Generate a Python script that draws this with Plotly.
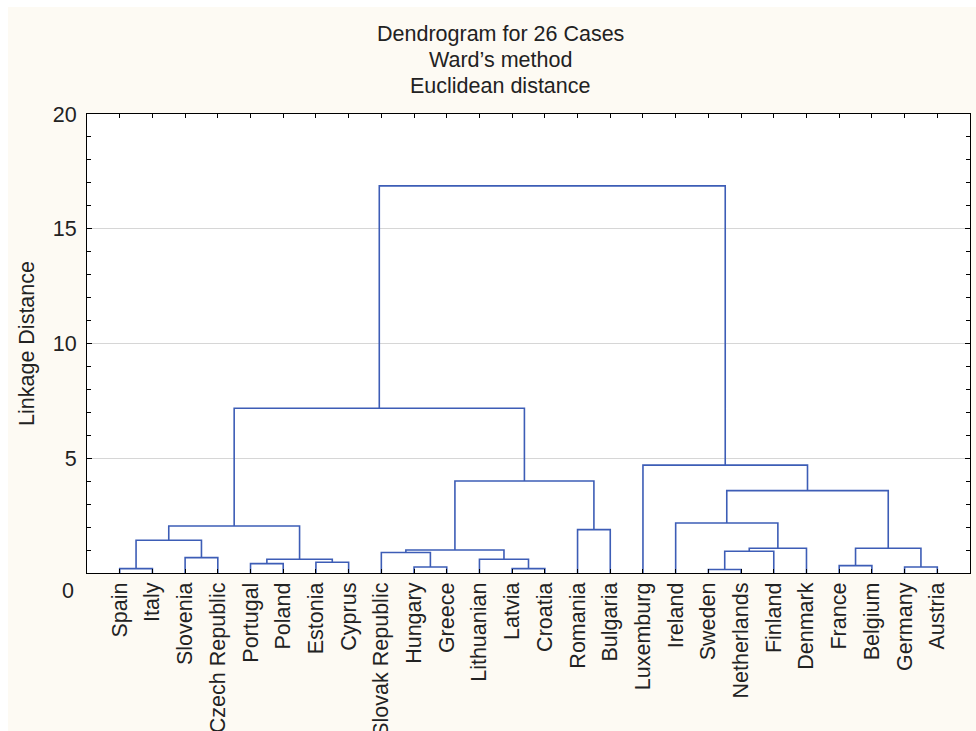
import plotly.graph_objects as go

# ---- data ----
leaves = ["Spain", "Italy", "Slovenia", "Czech Republic", "Portugal", "Poland",
          "Estonia", "Cyprus", "Slovak Republic", "Hungary", "Greece", "Lithuanian",
          "Latvia", "Croatia", "Romania", "Bulgaria", "Luxemburg", "Ireland",
          "Sweden", "Netherlands", "Finland", "Denmark", "France", "Belgium",
          "Germany", "Austria"]

# merges: (left member, right member, linkage distance); "cN" = result of merge N
merge_left = ["Spain", "Slovenia", "c0", "Portugal", "Estonia", "c3", "c2",
              "Hungary", "Slovak Republic", "Latvia", "Lithuanian", "c8", "Romania",
              "c11", "c6", "Sweden", "c15", "c16", "Ireland", "France", "Germany",
              "c19", "c18", "Luxemburg", "c14"]
merge_right = ["Italy", "Czech Republic", "c1", "Poland", "Cyprus", "c4", "c5",
               "Greece", "c7", "Croatia", "c9", "c10", "Bulgaria",
               "c12", "c13", "Netherlands", "Finland", "Denmark", "c17", "Belgium",
               "Austria", "c20", "c21", "c22", "c23"]
merge_height = [0.19, 0.67, 1.43, 0.41, 0.47, 0.60, 2.05,
                0.26, 0.89, 0.19, 0.60, 1.00, 1.89,
                4.01, 7.18, 0.15, 0.95, 1.08, 2.18, 0.32,
                0.26, 1.08, 3.59, 4.70, 16.87]

y_tickvals = [5, 10, 15, 20]
title_lines = ["Dendrogram for 26 Cases", "Ward\u2019s method", "Euclidean distance"]
y_title = "Linkage Distance"

# ---- build dendrogram segments ----
pos = {name: i + 1 for i, name in enumerate(leaves)}
hgt = {name: 0.0 for name in leaves}
xs, ys = [], []
for k, (a, b, h) in enumerate(zip(merge_left, merge_right, merge_height)):
    xa, xb = pos[a], pos[b]
    xs += [xa, xa, xb, xb, None]
    ys += [hgt[a], h, h, hgt[b], None]
    pos[f"c{k}"] = (xa + xb) / 2
    hgt[f"c{k}"] = h

FONT = "Liberation Sans, Arial, sans-serif"
TXT = "#222222"
CREAM = "#FDFAF3"
FS = 21.5

# pixel geometry of the plot frame
L, R, T, B = 87, 6, 114, 158
W, H = 976, 731
PW, PH = W - L - R, H - T - B


def px_to_paper_x(px):
    return (px - L) / PW


def px_to_paper_y(py):
    return (H - B - py) / PH


fig = go.Figure()
fig.add_trace(go.Scatter(x=xs, y=ys, mode="lines",
                         line=dict(color="#3D5DB6", width=1.6),
                         hoverinfo="skip", showlegend=False))

fig.update_layout(
    width=W, height=H,
    margin=dict(l=L, r=R, t=T, b=B),
    paper_bgcolor=CREAM, plot_bgcolor="white",
    font=dict(family=FONT, size=FS, color=TXT),
    showlegend=False,
)
fig.update_xaxes(range=[0, 27], tickmode="array", tickvals=list(range(1, len(leaves) + 1)),
                 ticktext=leaves, tickangle=-90, ticks="inside", ticklen=4,
                 tickcolor="black", tickwidth=1, automargin=False,
                 showline=True, linecolor="black", linewidth=1, mirror="allticks",
                 showgrid=False, zeroline=False, tickfont=dict(size=FS, color=TXT))
fig.update_yaxes(range=[0, 20], tickmode="array", tickvals=y_tickvals,
                 ticks="inside", ticklen=5, tickcolor="black", tickwidth=1,
                 ticklabelstandoff=5, automargin=False,
                 minor=dict(ticks="inside", dtick=1, ticklen=4, tickcolor="black", showgrid=False),
                 showline=True, linecolor="black", linewidth=1, mirror="allticks",
                 showgrid=True, gridcolor="#D6D6D6", gridwidth=1, zeroline=False,
                 tickfont=dict(size=FS, color=TXT),
                 title=dict(text=y_title, font=dict(size=FS, color=TXT), standoff=12))

# title lines
for line, cy in zip(title_lines, [34, 60, 85.5]):
    fig.add_annotation(text=line, xref="paper", yref="paper",
                       x=px_to_paper_x(500), y=px_to_paper_y(cy),
                       xanchor="center", yanchor="middle", showarrow=False,
                       font=dict(size=FS, color=TXT))

# displaced "0" label like the original
fig.add_annotation(text="0", xref="paper", yref="y", x=0, y=0, xanchor="right",
                   yanchor="middle", xshift=-11, yshift=-18, showarrow=False,
                   font=dict(size=FS, color=TXT))

# white page margin strips (top and left) of the original screenshot
fig.add_shape(type="rect", xref="paper", yref="paper",
              x0=-0.2, x1=1.1, y0=px_to_paper_y(7), y1=1.5,
              fillcolor="white", line=dict(width=0), layer="above")
fig.add_shape(type="rect", xref="paper", yref="paper",
              x0=-0.2, x1=px_to_paper_x(8), y0=-0.5, y1=1.5,
              fillcolor="white", line=dict(width=0), layer="above")

fig.write_html("out.html")
